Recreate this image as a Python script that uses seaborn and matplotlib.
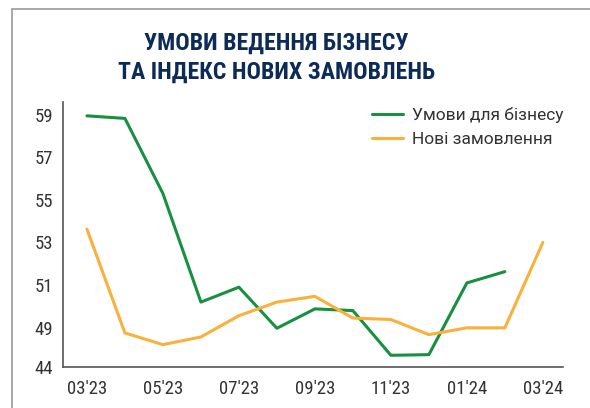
import numpy as np
import pandas as pd
import matplotlib
matplotlib.use("Agg")
import matplotlib.pyplot as plt
import seaborn as sns
from matplotlib.patches import Rectangle
from matplotlib import font_manager as fm

months = ["03'23", "04'23", "05'23", "06'23", "07'23", "08'23", "09'23",
          "10'23", "11'23", "12'23", "01'24", "02'24", "03'24"]
business = [58.95, 58.83, 55.3, 50.2, 50.9, 48.97, 49.88, 49.8, 47.7, 47.73, 51.1, 51.63]
orders = [53.63, 48.75, 48.2, 48.56, 49.56, 50.2, 50.47, 49.45, 49.38, 48.67, 48.99, 48.99, 53.0]
series_names = ["Умови для бізнесу", "Нові замовлення"]
ytick_values = [47.15, 49, 51, 53, 55, 57, 59]
ytick_labels = ["44", "49", "51", "53", "55", "57", "59"]
xtick_labels = ["03'23", "05'23", "07'23", "09'23", "11'23", "01'24", "03'24"]

rows = []
for i, v in enumerate(business):
    rows.append({"idx": i, "value": v, "series": series_names[0]})
for i, v in enumerate(orders):
    rows.append({"idx": i, "value": v, "series": series_names[1]})
df = pd.DataFrame(rows)

available = set(f.name for f in fm.fontManager.ttflist)
cond_family = None
cond_stretch = "normal"
for cand in ["Roboto Condensed", "Fira Sans Condensed", "PT Sans Narrow", "Open Sans Condensed"]:
    if cand in available:
        cond_family = cand
        break
if cond_family is None:
    cond_family = "DejaVu Sans"
    cond_stretch = "condensed"

sns.set_theme(style="white")
plt.rcParams['font.family'] = [cond_family, 'DejaVu Sans']
plt.rcParams['font.stretch'] = cond_stretch

fig = plt.figure(figsize=(5.9, 4.08), dpi=100)
ax = fig.add_axes([63/590, 1-367/408, (563-63)/590, (367-102)/408])

palette = {series_names[0]: "#17903f", series_names[1]: "#fbb03b"}
sns.lineplot(data=df, x="idx", y="value", hue="series", palette=palette,
             linewidth=2.2, ax=ax, legend=True)

ax.set_xlim(-0.63, 12.53)
ax.set_ylim(47.15, 59.6)
ax.set_xticks([months.index(m) for m in xtick_labels])
ax.set_xticklabels(xtick_labels)
ax.set_yticks(ytick_values)
ax.set_yticklabels(ytick_labels)
ax.set_xlabel("")
ax.set_ylabel("")
ax.tick_params(axis="both", length=0, labelsize=13.5, labelcolor="#333333")
ax.tick_params(axis="x", pad=9)
ax.tick_params(axis="y", pad=7)
for s in ["top", "right"]:
    ax.spines[s].set_visible(False)
for s in ["left", "bottom"]:
    ax.spines[s].set_color("#555555")
    ax.spines[s].set_linewidth(1.2)

leg = ax.legend(loc="upper right", frameon=False, fontsize=12.5,
                handlelength=1.8, handletextpad=0.5, labelspacing=0.55,
                bbox_to_anchor=(1.032, 1.041),
                prop={"family": ["Roboto", "DejaVu Sans"], "size": 12.5, "stretch": "normal"})
for t in leg.get_texts():
    t.set_color("#333333")

title_kw = dict(ha="center", va="baseline", fontsize=17.2, fontweight="bold",
                color="#0d2b57", family=[cond_family, "DejaVu Sans"], stretch=cond_stretch)
fig.text(276/590, 1-50/408, "УМОВИ ВЕДЕННЯ БІЗНЕСУ", **title_kw)
fig.text(276/590, 1-79/408, "ТА ІНДЕКС НОВИХ ЗАМОВЛЕНЬ", **title_kw)

fig.patches.append(Rectangle((12/590, -0.1), 1.0, 1.1 - 9.5/408,
                             transform=fig.transFigure, fill=False,
                             edgecolor="#9a9a9a", linewidth=1.2))

fig.savefig("out.png", dpi=100)
